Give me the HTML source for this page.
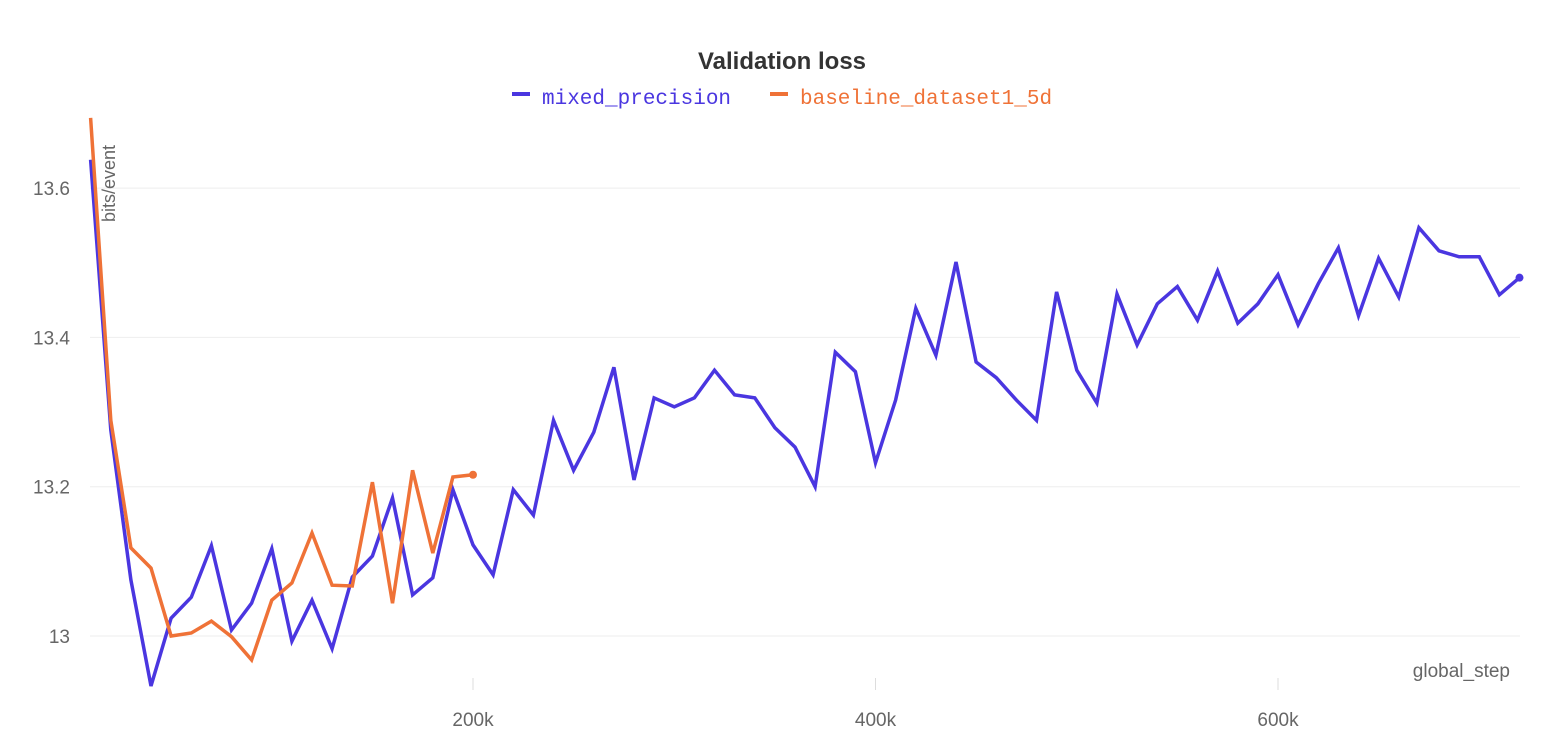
<!DOCTYPE html>
<html><head><meta charset="utf-8"><style>
body{margin:0;background:#fff;width:1568px;height:748px;overflow:hidden;font-family:"Liberation Sans",sans-serif}
</style></head><body>
<svg width="1568" height="748" xmlns="http://www.w3.org/2000/svg">
<text x="782" y="69" text-anchor="middle" font-size="24" font-weight="bold" fill="#333">Validation loss</text>
<g>
<line x1="512" y1="94" x2="530" y2="94" stroke="#4a36e0" stroke-width="4"/>
<text x="542" y="104" font-family="Liberation Mono,monospace" font-size="21" fill="#4a36e0">mixed_precision</text>
<line x1="770" y1="94" x2="788" y2="94" stroke="#ef7237" stroke-width="4"/>
<text x="800" y="104" font-family="Liberation Mono,monospace" font-size="21" fill="#ef7237">baseline_dataset1_5d</text>
</g>
<g id="grid"></g><g id="axes"></g>
<defs><clipPath id="clip"><rect x="80" y="110" width="1460" height="590"/></clipPath></defs>
<g id="series" clip-path="url(#clip)"></g>
<text transform="translate(115,222) rotate(-90)" font-size="18" fill="#666">bits/event</text>
<text x="1510" y="677" text-anchor="end" font-size="19" fill="#666">global_step</text>
</svg>
<script>
const yTicks=[13,13.2,13.4,13.6];
const yTickLabels=["13","13.2","13.4","13.6"];
const xTicks=[200000,400000,600000];
const xTickLabels=["200k","400k","600k"];
const mixedSteps=[];for(let i=1;i<=72;i++)mixedSteps.push(i*10000);
const mixedValues=[13.638,13.276,13.075,12.933,13.024,13.052,13.121,13.008,13.044,13.117,12.993,13.048,12.983,13.079,13.107,13.185,13.055,13.078,13.196,13.122,13.082,13.196,13.162,13.289,13.222,13.273,13.360,13.209,13.319,13.307,13.319,13.356,13.323,13.319,13.279,13.253,13.200,13.380,13.354,13.232,13.316,13.439,13.376,13.501,13.367,13.346,13.316,13.289,13.461,13.356,13.312,13.458,13.390,13.445,13.468,13.423,13.489,13.419,13.445,13.484,13.417,13.472,13.520,13.429,13.506,13.454,13.547,13.516,13.508,13.508,13.457,13.480];
const baseSteps=[];for(let i=1;i<=20;i++)baseSteps.push(i*10000);
const baseValues=[13.694,13.289,13.118,13.091,13.0,13.004,13.020,12.999,12.968,13.048,13.071,13.138,13.068,13.067,13.206,13.044,13.222,13.111,13.213,13.216];
const NS="http://www.w3.org/2000/svg";
const X=v=>70.5+v*402.5/200000;
const Y=v=>636-(v-13)*746.5;
function mk(t,a,p){const e=document.createElementNS(NS,t);for(const k in a)e.setAttribute(k,a[k]);p.appendChild(e);return e;}
const grid=document.getElementById('grid'),axes=document.getElementById('axes'),ser=document.getElementById('series');
yTicks.forEach((v,i)=>{
 const l=mk('line',{x1:90,x2:1520,y1:Y(v),y2:Y(v),stroke:'#eee','stroke-width':1},grid);
 
 
 const t=mk('text',{x:70,y:Y(v)+7,'text-anchor':'end','font-size':19,fill:'#666'},axes);t.textContent=yTickLabels[i];
 
 
});
xTicks.forEach((v,i)=>{
 const l=mk('line',{x1:X(v),x2:X(v),y1:678,y2:690,stroke:'#ddd','stroke-width':1},axes);
 
 
 const t=mk('text',{x:X(v),y:726,'text-anchor':'middle','font-size':19,fill:'#666'},axes);t.textContent=xTickLabels[i];
 
 
});
function line(xs,ys,c,name){
 const d=xs.map((x,i)=>(i?'L':'M')+X(x).toFixed(1)+','+Y(ys[i]).toFixed(1)).join('');
 const p=mk('path',{d:d,fill:'none',stroke:c,'stroke-width':3.5,'stroke-linejoin':'miter'},ser);
 
 
 const n=xs.length-1;
 const c2=mk('circle',{cx:X(xs[n]),cy:Y(ys[n]),r:4,fill:c},ser);
 
 
}
line(mixedSteps,mixedValues,'#4a36e0','mixed-precision');
line(baseSteps,baseValues,'#ef7237','baseline');
</script>
</body></html>
